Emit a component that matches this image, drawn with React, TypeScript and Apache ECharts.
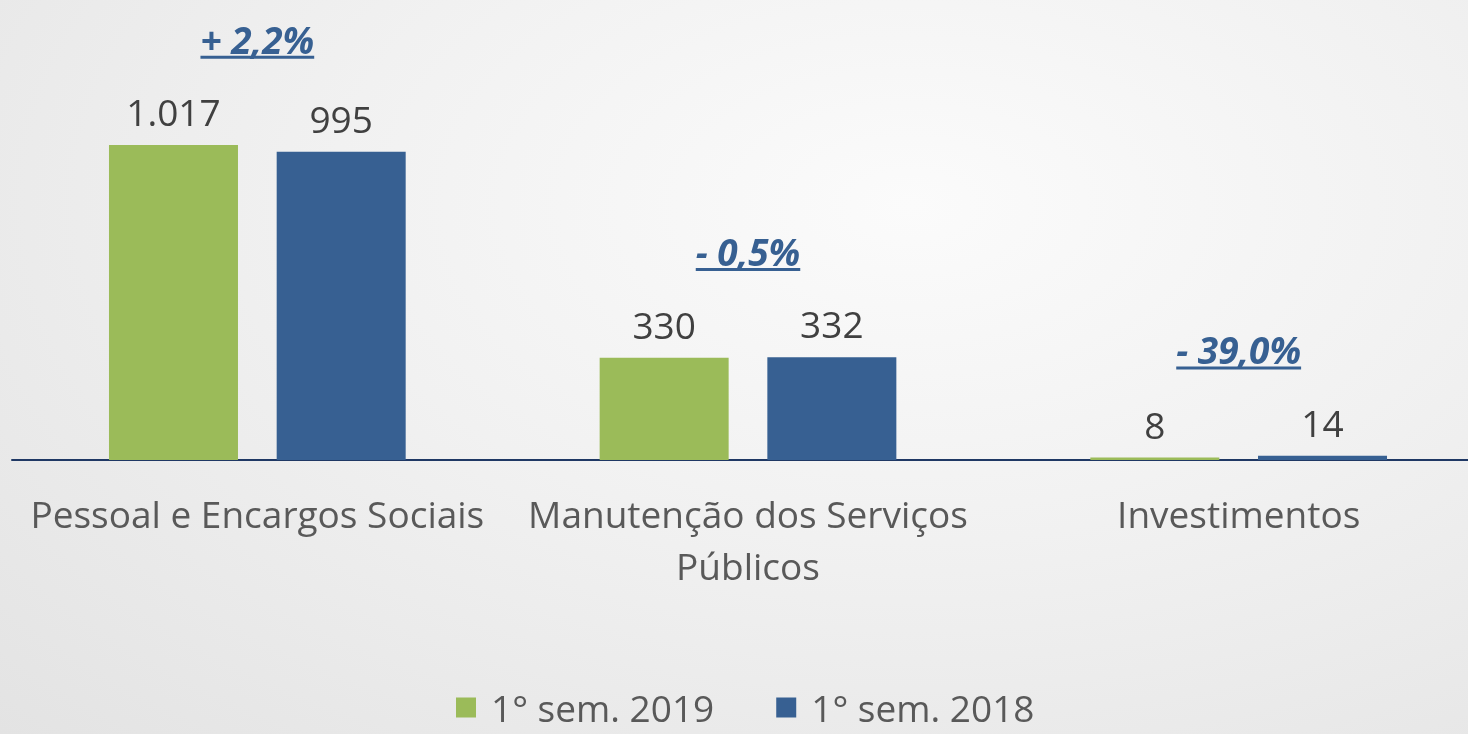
import React, { useEffect, useRef } from "react";
import * as echarts from "echarts";

const categories = ["Pessoal e Encargos Sociais", "Manutenção dos Serviços\nPúblicos", "Investimentos"];
const seriesNames = ["1° sem. 2019", "1° sem. 2018"];
const sem2019 = [1017, 330, 8];
const sem2018 = [995, 332, 14];
const changeLabels = ["+ 2,2%", "- 0,5%", "- 39,0%"];

const GREEN = "#9BBB59";
const BLUE = "#376092";
const FONT = '"Open Sans", "Noto Sans", sans-serif';
const PCT_FONT_SIZE = 37;
const PCT_FONT = `italic bold ${PCT_FONT_SIZE}px "Open Sans"`;

let measureCtx: CanvasRenderingContext2D | null = null;
function measure(text: string): number {
  if (!measureCtx) {
    const c = document.createElement("canvas");
    measureCtx = c.getContext("2d");
  }
  if (!measureCtx) return text.length * PCT_FONT_SIZE * 0.55;
  measureCtx.font = PCT_FONT;
  return measureCtx.measureText(text).width;
}

export default function App() {
  const ref = useRef<HTMLDivElement>(null);
  useEffect(() => {
    if (!ref.current) return;
    const chart = echarts.init(ref.current, null, { renderer: "svg" });
    const pctData = categories.map((_, i) => [i, Math.max(sem2019[i], sem2018[i])]);
    const valueLabel = {
      show: true,
      position: "top",
      distance: 15,
      color: "#404040",
      fontFamily: FONT,
      fontSize: 37,
      formatter: (p: any) => Number(p.value).toLocaleString("pt-BR"),
    };
    chart.setOption({
      animation: false,
      backgroundColor: "transparent",
      grid: { left: 12, top: 26.4, width: 1472, height: 433.6, containLabel: false },
      xAxis: {
        type: "category",
        data: categories,
        axisTick: { show: false },
        axisLine: { lineStyle: { color: "#1F3864", width: 2 } },
        axisLabel: {
          interval: 0,
          color: "#595959",
          fontFamily: FONT,
          fontSize: 37,
          lineHeight: 52,
          margin: 27,
        },
      },
      yAxis: { type: "value", min: 0, max: 1400, show: false, splitLine: { show: false } },
      legend: {
        data: seriesNames,
        top: 684,
        left: 451,
        itemWidth: 20,
        itemHeight: 20,
        itemGap: 62,
        icon: "rect",
        textStyle: { color: "#595959", fontFamily: FONT, fontSize: 37, padding: [0, 0, 0, 10] },
      },
      series: [
        {
          name: seriesNames[0],
          type: "bar",
          data: sem2019,
          barWidth: 129,
          barGap: "30%",
          itemStyle: { color: GREEN },
          label: valueLabel,
        },
        {
          name: seriesNames[1],
          type: "bar",
          data: sem2018,
          barWidth: 129,
          barGap: "30%",
          itemStyle: { color: BLUE },
          label: valueLabel,
        },
        {
          name: "variação",
          type: "custom",
          data: pctData,
          encode: { x: 0, y: 1 },
          clip: false,
          z: 10,
          renderItem: (params: any, api: any) => {
            const pt = api.coord([api.value(0), api.value(1)]);
            const text = changeLabels[params.dataIndex];
            const w = measure(text);
            const cy = pt[1] - 106;
            const baseY = cy + PCT_FONT_SIZE * 0.36;
            return {
              type: "group",
              children: [
                {
                  type: "text",
                  x: pt[0],
                  y: cy,
                  style: {
                    text,
                    font: PCT_FONT,
                    fill: BLUE,
                    align: "center",
                    verticalAlign: "middle",
                  },
                },
                {
                  type: "line",
                  shape: { x1: pt[0] - w / 2, y1: baseY + 5, x2: pt[0] + w / 2, y2: baseY + 5 },
                  style: { stroke: BLUE, lineWidth: 3 },
                },
              ],
            };
          },
        },
      ],
    });
    return () => chart.dispose();
  }, []);
  return (
    <div
      style={{
        position: "fixed",
        left: 0,
        top: 0,
        width: 1468,
        height: 734,
        overflow: "hidden",
        background: "radial-gradient(ellipse at 62% 28%, #fbfbfb 0%, #f1f1f1 45%, #e3e3e3 100%)",
      }}
    >
      <div ref={ref} style={{ width: 1500, height: 734 }} />
    </div>
  );
}
